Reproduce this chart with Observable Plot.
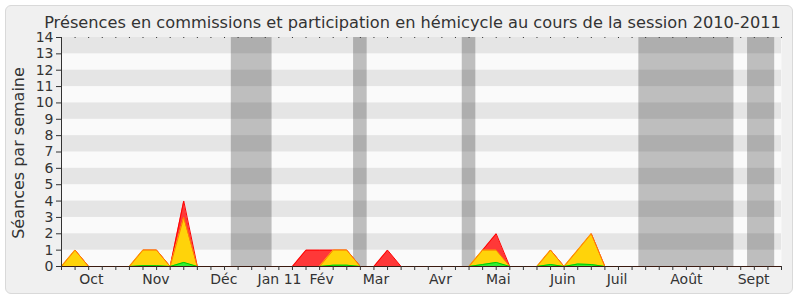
<!DOCTYPE html>
<html><head><meta charset="utf-8">
<script src="https://cdn.jsdelivr.net/npm/d3@7"></script>
<script src="https://cdn.jsdelivr.net/npm/@observablehq/plot@0.6"></script>
<style>
html,body{margin:0;padding:0;background:#fff;}
#wrap{position:relative;width:800px;height:300px;}
#bg{position:absolute;left:5px;top:5px;width:786px;height:287px;border:1px solid #d9d9d9;border-radius:6px;background:#f0f0f0;}
#chart{position:absolute;left:0;top:0;}
</style></head>
<body><div id="wrap"><div id="bg"></div><div id="chart"></div></div>
<script>
const title = "Présences en commissions et participation en hémicycle au cours de la session 2010-2011";
const yLabel = "Séances par semaine";
const weeks = d3.range(0, 54);
// weekly values (index = week number from start of session)
const hemicycle = [0,1,0,0,0,0,1,1,0,4,0,0,0,0,0,0,0,0,1,1,1,1,0,0,1,0,0,0,0,0,0,1,2,0,0,0,1,0,1,2,0,0,0,0,0,0,0,0,0,0,0,0,0,0];
const commission = [0,1,0,0,0,0,1,1,0,3,0,0,0,0,0,0,0,0,0,0,1,1,0,0,0,0,0,0,0,0,0,1,1,0,0,0,1,0,1,2,0,0,0,0,0,0,0,0,0,0,0,0,0,0];
const interventions = [0,0,0,0,0,0,0.05,0.05,0,0.25,0,0,0,0,0,0,0,0,0,0,0.08,0.08,0,0,0,0,0,0,0,0,0,0.12,0.25,0,0,0,0.12,0,0.15,0.12,0,0,0,0,0,0,0,0,0,0,0,0,0,0];
const vacStart = [12.5, 21.5, 29.5, 42.5, 50.5];
const vacEnd   = [15.5, 22.5, 30.5, 49.5, 52.5];
const monthNames = ["Oct","Nov","Déc","Jan 11","Fév","Mar","Avr","Mai","Juin","Juil","Août","Sept"];
const monthPos   = [2.2, 6.95, 11.95, 16.05, 19.15, 23.15, 27.9, 32.15, 36.9, 40.9, 46.0, 50.95];
const yTicks = d3.range(0, 15);
const bandStart = [1,3,5,7,9,11,13];

const data = weeks.map((w,i)=>({w, h: hemicycle[i], c: commission[i], g: interventions[i]}));
const vac = vacStart.map((s,i)=>({s, e: vacEnd[i]}));
const months = monthNames.map((n,i)=>({n, x: monthPos[i]}));

const font = "DejaVu Sans, sans-serif";
const chart = Plot.plot({
  width: 800, height: 300,
  marginLeft: 61, marginRight: 19, marginTop: 37, marginBottom: 34,
  style: {background: "transparent", fontFamily: font, color: "#333", overflow: "visible"},
  x: {domain: [0, 53], axis: null},
  y: {domain: [0, 14], axis: null},
  marks: [
    Plot.frame({fill: "#fafafa", stroke: null}),
    Plot.rect(bandStart, {x1: 0, x2: 53, y1: d=>d, y2: d=>d+1, fill: "#e5e5e5"}),
    Plot.rect(vac, {x1: "s", x2: "e", y1: 0, y2: 14, fill: "#000", fillOpacity: 0.24}),
    Plot.areaY(data, {x: "w", y: "h", fill: "#ff3838"}),
    Plot.lineY(data, {x: "w", y: "h", stroke: "#ff0000", strokeWidth: 1}),
    Plot.areaY(data, {x: "w", y: "c", fill: "#ffd30a"}),
    Plot.lineY(data, {x: "w", y: "c", stroke: "#ff8000", strokeWidth: 1}),
    Plot.areaY(data, {x: "w", y: "g", fill: "#33ee33"}),
    Plot.lineY(data, {x: "w", y: "g", stroke: "#00cc00", strokeWidth: 1}),
    Plot.ruleY([0], {stroke: "#3a1a10"}),
    Plot.ruleX([0], {stroke: "#333"}),
    Plot.axisY({ticks: yTicks, tickSize: 5, tickPadding: 3, fontSize: 14, tickFormat: d=>String(d), label: null}),
    Plot.axisX({ticks: weeks, tickSize: 4, tickFormat: ()=>"", label: null}),
    Plot.axisX({anchor: "top", ticks: weeks, tickSize: 1, tickPadding: 1, tickFormat: ()=>"", label: null}),
    Plot.text(months, {x: "x", y: 0, text: "n", dy: 13, fontSize: 14, lineAnchor: "middle", fill: "#333"}),
    Plot.text([yLabel], {frameAnchor: "left", textAnchor: "middle", rotate: -90, dx: -43, dy: 1, fontSize: 16, fill: "#333"}),
    Plot.text([title], {frameAnchor: "top", dx: -9, dy: -21, fontSize: 16.2, fill: "#333"})
  ]
});
document.getElementById("chart").appendChild(chart);
</script></body></html>
